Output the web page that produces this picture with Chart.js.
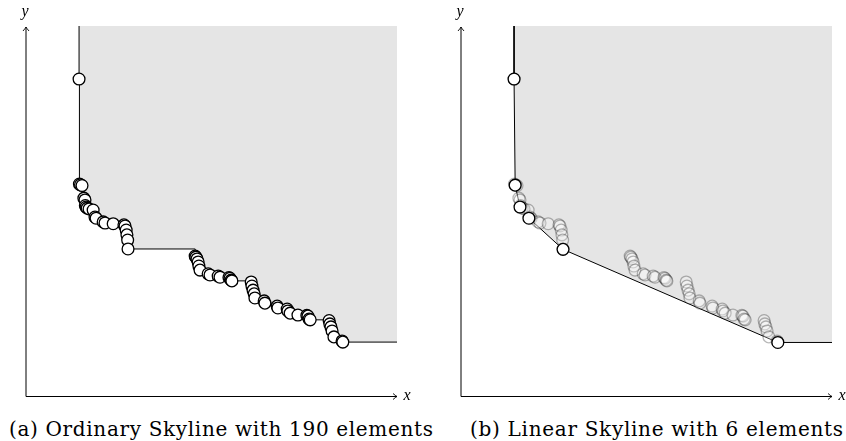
<!DOCTYPE html>
<html><head><meta charset="utf-8">
<script src="https://cdn.jsdelivr.net/npm/chart.js@4.4.1/dist/chart.umd.min.js"></script>
<style>
html,body{margin:0;padding:0;background:#fff;}
body{width:846px;height:441px;position:relative;overflow:hidden;}
.wrap{position:absolute;top:0;}
.cap{position:absolute;white-space:nowrap;font-family:'DejaVu Serif',serif;color:#000;line-height:1;}
</style></head><body>
<div class="wrap" style="left:0;width:430px;height:405px"><canvas id="ca"></canvas></div>
<div class="wrap" style="left:435px;width:411px;height:405px"><canvas id="cb"></canvas></div>
<div class="cap" id="capA">(a) Ordinary Skyline with 190 elements</div>
<div class="cap" id="capB">(b) Linear Skyline with 6 elements</div>
<script>
// ---- data (axis units 0..100) ----
const skyX = [14.3, 14.4, 14.7, 15.1, 15.6, 15.9, 16.0, 16.2, 16.5, 17.0, 18.1, 18.6, 18.9, 20.8, 21.3, 23.5, 26.4, 26.7, 27.0, 27.2, 27.4, 27.5, 45.6, 45.8, 46.1, 46.4, 46.6, 46.9, 49.1, 49.6, 51.8, 52.3, 54.7, 55.0, 55.3, 55.5, 60.7, 60.9, 61.2, 61.5, 61.7, 64.2, 64.4, 67.7, 67.9, 70.4, 70.6, 71.2, 73.3, 75.7, 76.0, 76.3, 76.6, 81.7, 81.9, 82.2, 82.5, 83.0, 85.2, 85.4];
const skyY = [85.7, 57.4, 57.2, 57.0, 53.6, 53.1, 51.6, 51.2, 50.9, 50.7, 50.4, 48.5, 48.2, 47.2, 46.9, 46.7, 46.4, 46.1, 45.0, 43.7, 42.3, 39.9, 38.0, 37.7, 37.2, 36.4, 35.3, 34.2, 33.2, 32.9, 32.6, 32.3, 32.2, 32.0, 31.5, 31.3, 31.0, 29.9, 28.8, 27.8, 26.7, 25.9, 25.3, 24.5, 24.0, 23.7, 23.2, 22.6, 22.1, 22.0, 21.8, 21.0, 20.8, 20.6, 19.7, 18.9, 17.8, 16.2, 15.1, 14.8];
const linX = [14.3, 14.6, 15.9, 18.3, 27.5, 85.4];
const linY = [85.7, 57.1, 51.2, 48.2, 39.8, 14.7];
const axisMin = 0, axisMax = 100;
const captionA = '(a) Ordinary Skyline with 190 elements';
const captionB = '(b) Linear Skyline with 6 elements';

const pts = (xs, ys) => xs.map((x, i) => ({x, y: ys[i]}));
const withEnds = (xs, ys) => [{x: xs[0], y: axisMax}, ...pts(xs, ys), {x: axisMax, y: ys[ys.length - 1]}];

const axesPlugin = {
  id: 'arrowAxes',
  afterDraw(chart) {
    const {ctx} = chart;
    const xs = chart.scales.x, ys = chart.scales.y;
    const x0 = Math.round(xs.getPixelForValue(axisMin));
    const y0 = Math.round(ys.getPixelForValue(axisMin)) - 0.5;
    const x1 = xs.getPixelForValue(axisMax);
    const y1 = ys.getPixelForValue(axisMax);
    ctx.save();
    ctx.strokeStyle = '#000';
    ctx.lineWidth = 1;
    ctx.beginPath();
    ctx.moveTo(x0, y0); ctx.lineTo(x1, y0);
    ctx.moveTo(x0, y0); ctx.lineTo(x0, y1 + 1);
    ctx.stroke();
    ctx.lineWidth = 0.9;
    ctx.beginPath();
    ctx.moveTo(x1 - 4, y0 - 3); ctx.quadraticCurveTo(x1 - 1.5, y0 - 0.8, x1, y0); ctx.quadraticCurveTo(x1 - 1.5, y0 + 0.8, x1 - 4, y0 + 3);
    ctx.moveTo(x0 - 3, y1 + 5); ctx.quadraticCurveTo(x0 - 0.8, y1 + 2.5, x0, y1 + 1); ctx.quadraticCurveTo(x0 + 0.8, y1 + 2.5, x0 + 3, y1 + 5);
    ctx.stroke();
    ctx.fillStyle = '#000';
    ctx.font = 'italic 16px "Liberation Serif"';
    ctx.textAlign = 'center';
    ctx.textBaseline = 'alphabetic';
    ctx.fillText('y', x0 - 1, y1 - 10);
    ctx.fillText('x', x1 + 10, y0 + 3);
    ctx.restore();
  }
};

const scales = {
  x: {type: 'linear', min: axisMin, max: axisMax, display: false},
  y: {type: 'linear', min: axisMin, max: axisMax, display: false}
};
const baseOpts = (padRight) => ({
  responsive: true, maintainAspectRatio: false, animation: false,
  layout: {padding: {left: 26, right: padRight, top: 26, bottom: 8}},
  plugins: {legend: {display: false}, tooltip: {enabled: false}},
  scales
});

new Chart(document.getElementById('ca'), {
  type: 'scatter',
  data: {datasets: [
    {type: 'line', data: withEnds(skyX, skyY), stepped: 'before', fill: 'end',
     backgroundColor: '#e5e5e5', borderColor: '#000', borderWidth: 1, pointRadius: 0, order: 3},
    {data: pts(skyX, skyY), pointRadius: 5.9, pointBorderWidth: 1.3,
     pointBackgroundColor: '#fff', pointBorderColor: '#000', order: 1}
  ]},
  options: baseOpts(33),
  plugins: [axesPlugin]
});

new Chart(document.getElementById('cb'), {
  type: 'scatter',
  data: {datasets: [
    {type: 'line', data: withEnds(linX, linY), fill: 'end', tension: 0,
     backgroundColor: '#e5e5e5', borderColor: '#000', borderWidth: 1, pointRadius: 0, order: 3},
    {data: pts(skyX, skyY), pointRadius: 5.9, pointBorderWidth: 1.3,
     pointBackgroundColor: 'rgba(255,255,255,0.25)', pointBorderColor: 'rgba(0,0,0,0.28)', order: 2},
    {data: pts(linX, linY), pointRadius: 5.9, pointBorderWidth: 1.3,
     pointBackgroundColor: '#fff', pointBorderColor: '#000', order: 1}
  ]},
  options: baseOpts(14),
  plugins: [axesPlugin]
});

// captions: fixed size, letter spacing fitted to the reference widths
(function () {
  const size = 20;
  const c = document.createElement('canvas').getContext('2d');
  c.font = size + 'px "DejaVu Serif"';
  const fit = (el, text, target, left) => {
    el.textContent = text;
    const w = c.measureText(text).width;
    el.style.fontSize = size + 'px';
    el.style.letterSpacing = ((target - w) / (text.length - 1)).toFixed(3) + 'px';
    el.style.top = (436 - 0.846 * size).toFixed(1) + 'px';
    el.style.left = left + 'px';
  };
  fit(document.getElementById('capA'), captionA, 424, 9);
  fit(document.getElementById('capB'), captionB, 373, 470);
})();
</script>
</body></html>
